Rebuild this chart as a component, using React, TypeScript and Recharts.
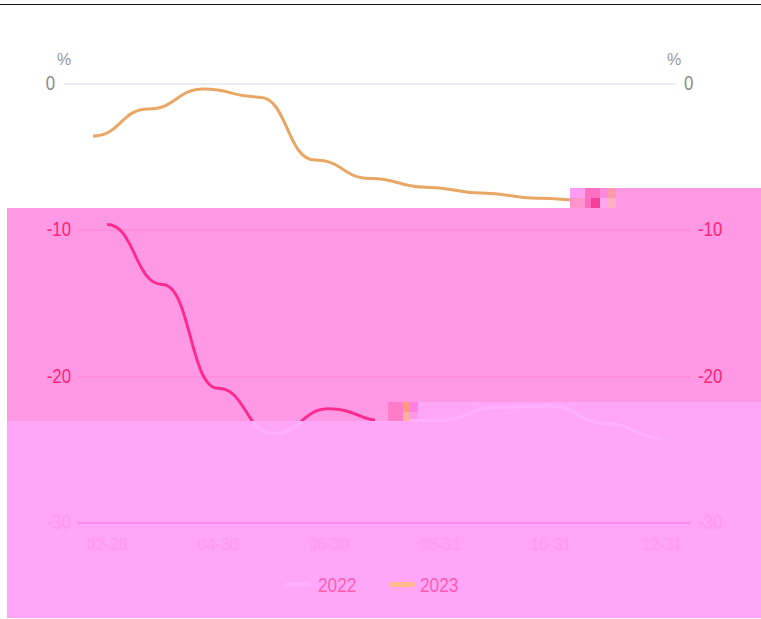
import * as React from "react";
import {
  LineChart,
  Line,
  XAxis,
  YAxis,
  ReferenceLine,
  Legend,
} from "recharts";

const dates = [
  "02-28", "03-31", "04-30", "05-31", "06-30", "07-31",
  "08-31", "09-30", "10-31", "11-30", "12-31",
];
const values2022 = [-9.6, -13.7, -20.8, -23.9, -22.2, -23.0, -23.0, -22.1, -22.0, -23.2, -24.2];
const values2023 = [-3.55, -1.7, -0.35, -0.9, -5.2, -6.45, -7.05, -7.45, -7.8, -8.0, null];
const seriesNames = ["2022", "2023"];
const lowerTicks = [-30, -20, -10];
const upperTicks = [0];

const chartData = dates.map((date, i) => ({
  date,
  y2022: values2022[i],
  y2023: values2023[i],
}));

const W = 761;
const H = 619;
const FONT = "'Liberation Sans', Arial, sans-serif";
const BAND_A = "#FF99E6";
const BAND_B = "#FFA6F9";
const PALE = "#FFB0FC";
const HOT = "#FF2A8C";
const ORANGE = "#E9A765";

const upperMargin = { top: 84, left: 28, right: 21, bottom: 96 };
const lowerMargin = { top: 84, left: 28, right: 21, bottom: 42 };
const hotMargin = { top: 84, left: 78, right: 71, bottom: 96 };
const xPad = { left: 29, right: 28 };

// flat patches behind the plot
const bands = [
  { left: 7, top: 208, width: 754, height: 213, background: BAND_A },
  { left: 570, top: 188, width: 191, height: 20, background: BAND_A },
  { left: 7, top: 421, width: 754, height: 197, background: BAND_B },
  { left: 418, top: 402, width: 343, height: 19, background: BAND_B },
];

// blocky patches on top of the line ends
const patches = [
  { left: 570, top: 188, width: 15, height: 10, background: "#FF9CEF" },
  { left: 585, top: 188, width: 15, height: 10, background: "#FF70BE" },
  { left: 600, top: 188, width: 8, height: 10, background: "#FF8ADC" },
  { left: 608, top: 188, width: 8, height: 10, background: "#FF9AAE" },
  { left: 570, top: 198, width: 15, height: 10, background: "#FF94CC" },
  { left: 585, top: 198, width: 6, height: 10, background: "#FF6CC0" },
  { left: 591, top: 198, width: 9, height: 10, background: "#F5409A" },
  { left: 600, top: 198, width: 8, height: 10, background: "#FFA6F0" },
  { left: 608, top: 198, width: 8, height: 10, background: "#FFB0C4" },
  { left: 388, top: 402, width: 15, height: 10, background: "#FF7CCB" },
  { left: 403, top: 402, width: 7, height: 10, background: "#FF9A80" },
  { left: 410, top: 402, width: 8, height: 10, background: "#FF80E0" },
  { left: 375, top: 412, width: 13, height: 9, background: "#FF9CE4" },
  { left: 388, top: 412, width: 15, height: 9, background: "#FF7CC8" },
  { left: 403, top: 412, width: 7, height: 9, background: "#FFB0A0" },
];

const yColor = (v: number) => {
  if (v === 0) return "#8A8A92";
  return v === -30 ? "#FF99EF" : "#FF2472";
};
const lineColor = (v: number) => (v === -30 ? "#FF88F0" : "#FF8AD8");

const YTick = (props: any) => {
  const { x, y, payload, side } = props;
  const v = payload?.value;
  return (
    <g transform={`translate(${x},${y})`}>
      <text
        transform="scale(0.84,1)"
        textAnchor={side === "left" ? "end" : "start"}
        dy={6}
        fontSize={20}
        fontFamily={FONT}
        fill={yColor(v)}
      >
        {v}
      </text>
      {v === 0 && (
        <text
          x={side === "left" ? 9 : -10}
          y={-19}
          textAnchor="middle"
          fontSize={16}
          fontFamily={FONT}
          fill="#96969C"
        >
          %
        </text>
      )}
    </g>
  );
};

const XTick = (props: any) => {
  const { x, y, payload } = props;
  return (
    <text x={x} y={y} dy={14} textAnchor="middle" fontSize={16} fontFamily={FONT} fill="#FF9AF1">
      {payload?.value}
    </text>
  );
};

const LegendRow = () => (
  <div style={{ position: "relative", width: 200, height: 24, fontFamily: FONT }}>
    {seriesNames.map((name, i) => (
      <React.Fragment key={name}>
        <div
          style={{
            position: "absolute",
            left: i * 104,
            top: 9,
            width: 26,
            height: 5,
            borderRadius: 3,
            background: i === 0 ? PALE : "#FFB98C",
          }}
        />
        <div
          style={{
            position: "absolute",
            left: 33 + i * 102,
            top: 0,
            fontSize: 21,
            lineHeight: "24px",
            color: "#FF5CB0",
            transform: "scaleX(0.82)",
            transformOrigin: "left center",
          }}
        >
          {name}
        </div>
      </React.Fragment>
    ))}
  </div>
);

const App = () => (
  <div
    style={{
      position: "absolute",
      left: 0,
      top: 0,
      width: W,
      height: H,
      overflow: "hidden",
      background: "#fff",
    }}
  >
    <div style={{ position: "absolute", left: 0, top: 4, width: W, height: 1, background: "#111" }} />
    {bands.map((b, i) => (
      <div key={i} style={{ position: "absolute", ...b }} />
    ))}

    {/* upper part of the picture sits 14px left of the lower part */}
    <div style={{ position: "absolute", left: -14, top: 0 }}>
      <LineChart width={W} height={H} data={chartData} margin={upperMargin}>
        <XAxis dataKey="date" hide padding={xPad} />
        <YAxis
          yAxisId="left"
          domain={[-30, 0]}
          ticks={upperTicks}
          width={50}
          axisLine={false}
          tickLine={false}
          tickSize={0}
          tickMargin={9}
          tick={<YTick side="left" />}
        />
        <YAxis
          yAxisId="right"
          orientation="right"
          domain={[-30, 0]}
          ticks={upperTicks}
          width={50}
          axisLine={false}
          tickLine={false}
          tickSize={0}
          tickMargin={8}
          tick={<YTick side="right" />}
        />
        <ReferenceLine yAxisId="left" y={0} stroke="#ECECF4" strokeWidth={2} />
        <Line
          yAxisId="left"
          type="bumpX"
          dataKey="y2023"
          name="2023"
          stroke={ORANGE}
          strokeWidth={3}
          dot={false}
          isAnimationActive={false}
        />
        <Line
          yAxisId="right"
          type="bumpX"
          dataKey="y2023"
          name="2023 right"
          stroke="none"
          dot={false}
          legendType="none"
          isAnimationActive={false}
        />
      </LineChart>
    </div>

    <div style={{ position: "absolute", left: 0, top: 0 }}>
      <LineChart width={W} height={H} data={chartData} margin={lowerMargin}>
        <XAxis
          dataKey="date"
          padding={xPad}
          height={30}
          interval={1}
          axisLine={false}
          tickLine={false}
          tickSize={0}
          tickMargin={13}
          tick={<XTick />}
        />
        <YAxis
          yAxisId="left"
          domain={[-30, 0]}
          ticks={lowerTicks}
          width={50}
          axisLine={false}
          tickLine={false}
          tickSize={0}
          tickMargin={7}
          tick={<YTick side="left" />}
        />
        <YAxis
          yAxisId="right"
          orientation="right"
          domain={[-30, 0]}
          ticks={lowerTicks}
          width={50}
          axisLine={false}
          tickLine={false}
          tickSize={0}
          tickMargin={8}
          tick={<YTick side="right" />}
        />
        {lowerTicks.map((v) => (
          <ReferenceLine
            key={v}
            yAxisId="left"
            y={v}
            stroke={lineColor(v)}
            strokeWidth={v === -30 ? 2 : 1.5}
          />
        ))}
        <Line
          yAxisId="left"
          type="bumpX"
          dataKey="y2022"
          name="2022"
          stroke={PALE}
          strokeWidth={3}
          dot={false}
          isAnimationActive={false}
        />
        <Line
          yAxisId="right"
          type="bumpX"
          dataKey="y2022"
          name="2022 right"
          stroke="none"
          dot={false}
          legendType="none"
          isAnimationActive={false}
        />
        <Legend
          content={<LegendRow />}
          height={0}
          wrapperStyle={{ position: "absolute", left: 285, top: 573, width: 200, height: 24 }}
        />
      </LineChart>
    </div>

    {/* same 2022 series again in hot pink, cut to the part where it shows that way */}
    <div style={{ position: "absolute", left: 0, top: 0, clipPath: "inset(0 383px 198px 0)" }}>
      <LineChart width={W} height={H} data={chartData} margin={hotMargin}>
        <XAxis dataKey="date" hide padding={xPad} />
        <YAxis hide domain={[-30, 0]} />
        <Line
          type="bumpX"
          dataKey="y2022"
          name="2022"
          stroke={HOT}
          strokeWidth={3}
          dot={false}
          isAnimationActive={false}
        />
      </LineChart>
    </div>

    {patches.map((p, i) => (
      <div key={i} style={{ position: "absolute", ...p }} />
    ))}
  </div>
);

export default App;
